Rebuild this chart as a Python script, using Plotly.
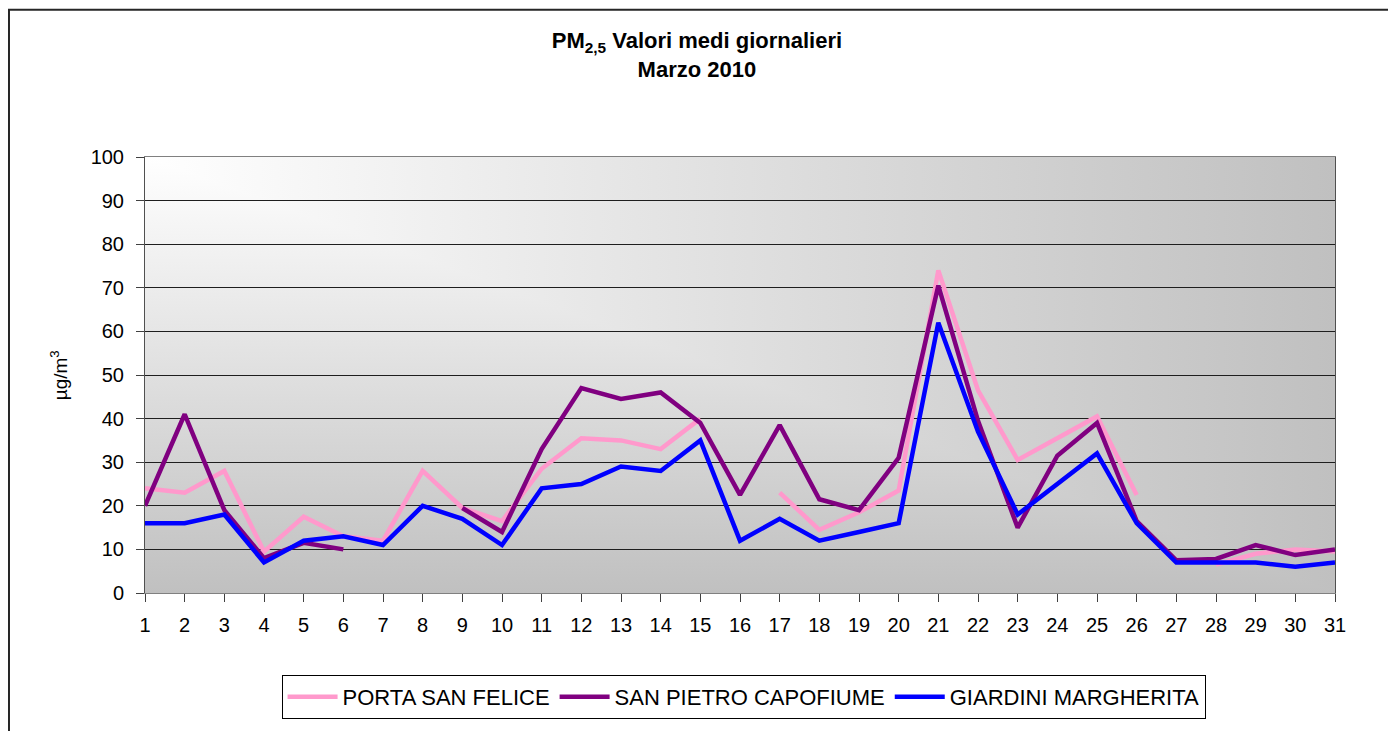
"""PM2.5 daily means, March 2010 - three monitoring stations (Plotly)."""

import base64

import plotly.graph_objects as go

days = list(range(1, 32))

# daily mean PM2.5 (µg/m3), None = no data that day
porta_san_felice = [24, 23, 28, 9.5, 17.5, 13, 12, 28, 19.5, 16.5,
                    28.5, 35.5, 35, 33, 40, None, 23, 14.5, 18.5, 23.5,
                    74, 46.5, 30.5, 35.5, 40.5, 22.5, None, 6.5, 9, 10, 9.5]
san_pietro_capofiume = [20, 41, 19, 8, 11.5, 10, None, None, 19.5, 14,
                        33, 47, 44.5, 46, 39, 22.5, 38.5, 21.5, 19, 31,
                        70.5, 39.5, 15, 31.5, 39, 16.5, 7.5, 7.8, 11, 8.7, 10]
giardini_margherita = [16, 16, 18, 7, 12, 13, 11, 20, 17, 11,
                       24, 25, 29, 28, 35, 12, 17, 12, 14, 16,
                       62, 37, 18, 25, 32, 16, 7, 7, 7, 6, 7]

series = [
    ("PORTA SAN FELICE", porta_san_felice, "#FF99CC"),
    ("SAN PIETRO CAPOFIUME", san_pietro_capofiume, "#800080"),
    ("GIARDINI MARGHERITA", giardini_margherita, "#0000FF"),
]

FONT = "Arial, Liberation Sans, sans-serif"

# Excel-style "from corner" grey gradient for the plot area
svg = """<svg xmlns="http://www.w3.org/2000/svg" width="100" height="100"
 viewBox="0 0 100 100" preserveAspectRatio="none">
<defs>
<linearGradient id="v" x1="0" y1="0" x2="0" y2="1">
<stop offset="0" stop-color="#ffffff"/><stop offset="1" stop-color="#c0c0c0"/></linearGradient>
<linearGradient id="h" x1="0" y1="0" x2="1" y2="0">
<stop offset="0" stop-color="#ffffff"/><stop offset="1" stop-color="#c0c0c0"/></linearGradient>
</defs>
<rect x="0" y="0" width="100" height="100" fill="url(#v)"/>
<polygon points="0,0 100,0 100,100" fill="url(#h)"/>
</svg>"""
bg_src = "data:image/svg+xml;base64," + base64.b64encode(svg.encode()).decode()

fig = go.Figure()
for name, values, color in series:
    fig.add_trace(go.Scatter(
        x=days, y=values, name=name, mode="lines",
        line=dict(color=color, width=4.5), connectgaps=False,
        hoverinfo="skip"))

fig.add_layout_image(dict(
    source=bg_src, xref="paper", yref="paper", x=0, y=1,
    sizex=1, sizey=1, sizing="stretch", layer="below"))

# outer chart frame (runs off the right/bottom of the page)
fig.add_shape(type="rect", xref="paper", yref="paper",
              x0=-0.1143, x1=1.2, y0=-0.5, y1=1.338,
              line=dict(color="#262626", width=2), layer="below")

fig.add_annotation(text="µg/m<sup>3</sup>", xref="paper", yref="paper",
                   x=-0.072, y=0.5, textangle=-90, showarrow=False,
                   xanchor="center", yanchor="middle",
                   font=dict(family=FONT, size=19, color="black"))

fig.update_layout(
    width=1396, height=731,
    title=dict(text="<b>PM<sub>2,5</sub> Valori medi giornalieri<br>Marzo 2010</b>",
               x=0.4935, xref="container", xanchor="center",
               y=1 - 40 / 731, yref="container", yanchor="middle",
               font=dict(family=FONT, size=22, color="black")),
    paper_bgcolor="white", plot_bgcolor="rgba(0,0,0,0)",
    font=dict(family=FONT, size=20, color="black"),
    margin=dict(l=137, r=69, t=149, b=146),
    xaxis=dict(range=[1, 31], tickmode="array", tickvals=days,
               showgrid=False, zeroline=False, automargin=False,
               showline=True, linecolor="#808080", linewidth=1, mirror=True,
               ticks="outside", ticklen=8, tickcolor="#404040",
               ticklabelstandoff=6, tickfont=dict(size=20)),
    yaxis=dict(range=[0, 100], dtick=10, automargin=False,
               showgrid=True, gridcolor="#1e1e1e", gridwidth=1, zeroline=False,
               showline=True, linecolor="#505050", linewidth=1, mirror=True,
               ticks="outside", ticklen=8, tickcolor="#404040",
               ticklabelstandoff=8, tickfont=dict(size=20)),
    legend=dict(orientation="h", x=0.503, xanchor="center", y=-0.188, yanchor="top",
                bgcolor="white", bordercolor="black", borderwidth=1,
                itemwidth=50, font=dict(family=FONT, size=22, color="black")),
    showlegend=True,
)

fig.write_html("out.html")
